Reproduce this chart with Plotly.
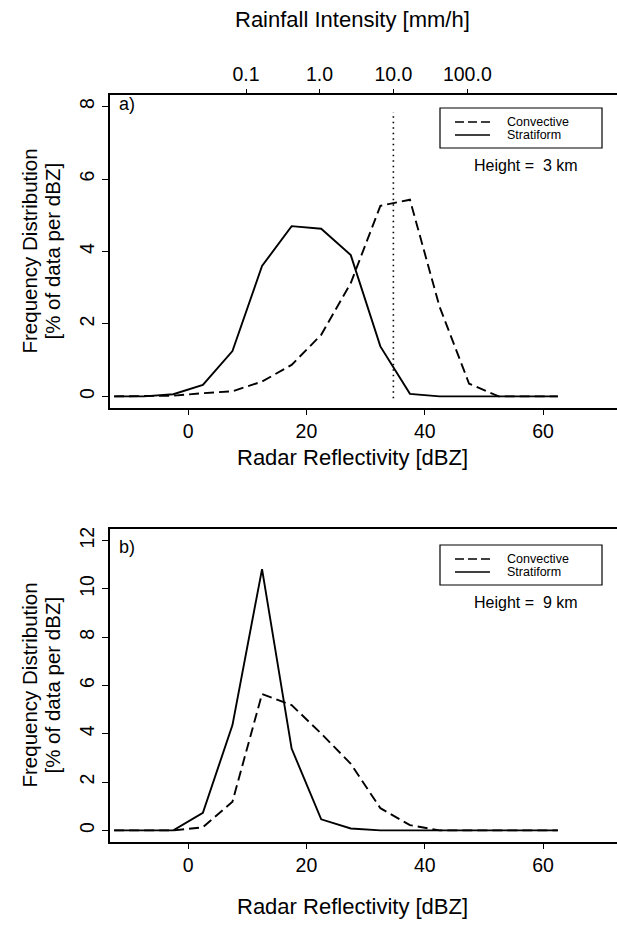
import plotly.graph_objects as go

# ---------------- data ----------------
dbz = [-12.5, -7.5, -2.5, 2.5, 7.5, 12.5, 17.5, 22.5, 27.5, 32.5, 37.5, 42.5, 47.5, 52.5, 57.5, 62.5]

conv_3km = [0.0, 0.0, 0.02, 0.09, 0.14, 0.41, 0.87, 1.70, 3.13, 5.26, 5.43, 2.48, 0.35, 0.0, 0.0, 0.0]
strat_3km = [0.0, 0.0, 0.06, 0.32, 1.25, 3.60, 4.70, 4.63, 3.90, 1.38, 0.07, 0.0, 0.0, 0.0, 0.0, 0.0]

conv_9km = [0.0, 0.0, 0.0, 0.13, 1.19, 5.65, 5.19, 4.01, 2.76, 0.92, 0.22, 0.0, 0.0, 0.0, 0.0, 0.0]
strat_9km = [0.0, 0.0, 0.0, 0.73, 4.36, 10.82, 3.39, 0.46, 0.08, 0.0, 0.0, 0.0, 0.0, 0.0, 0.0, 0.0]

rain_tick_text = ["0.1", "1.0", "10.0", "100.0"]
rain_tick_dbz = [9.8, 22.2, 34.7, 47.2]

x_ticks = [0, 20, 40, 60]
y_ticks_a = [0, 2, 4, 6, 8]
y_ticks_b = [0, 2, 4, 6, 8, 10, 12]

# ---------------- layout helpers ----------------
W, H = 617, 930
FONT = "Liberation Sans, Arial, Helvetica, sans-serif"


def px(x):
    return x / W


def py(y):
    return 1 - y / H


X_RANGE = [-13.2, 72.5]
DASH = "10px,5px"
LW = 1.9

fig = go.Figure()

# panel a
fig.add_trace(go.Scatter(x=dbz, y=conv_3km, mode="lines", xaxis="x", yaxis="y",
                         line=dict(color="black", width=LW, dash=DASH), showlegend=False))
fig.add_trace(go.Scatter(x=dbz, y=strat_3km, mode="lines", xaxis="x", yaxis="y",
                         line=dict(color="black", width=LW), showlegend=False))
# dotted line at 10 mm/h on the rainfall axis
fig.add_trace(go.Scatter(x=[rain_tick_dbz[2], rain_tick_dbz[2]], y=[-0.05, 7.85], mode="lines",
                         xaxis="x3", yaxis="y",
                         line=dict(color="black", width=1.6, dash="1.5px,4px"), showlegend=False))

# panel b
fig.add_trace(go.Scatter(x=dbz, y=conv_9km, mode="lines", xaxis="x2", yaxis="y2",
                         line=dict(color="black", width=LW, dash=DASH), showlegend=False))
fig.add_trace(go.Scatter(x=dbz, y=strat_9km, mode="lines", xaxis="x2", yaxis="y2",
                         line=dict(color="black", width=LW), showlegend=False))

xdom = [px(110), 1.0]
ydom_a = [py(408), py(95)]
ydom_b = [py(842), py(529)]

tickfont = dict(family=FONT, size=19.5, color="black")
common_x = dict(range=X_RANGE, showgrid=False, zeroline=False, showline=True, linecolor="black",
                linewidth=1.6, ticks="outside", ticklen=5, tickwidth=1.2, tickcolor="black",
                tickfont=tickfont, automargin=False)
common_y = dict(showgrid=False, zeroline=False, showline=True, linecolor="black", linewidth=1.6,
                ticks="outside", ticklen=6, tickwidth=1.2, tickcolor="black", tickfont=tickfont,
                tickangle=-90, automargin=False)

fig.update_layout(
    width=W, height=H,
    margin=dict(l=0, r=0, t=0, b=0),
    paper_bgcolor="white", plot_bgcolor="white",
    font=dict(family=FONT, color="black"),
    xaxis=dict(common_x, domain=xdom, anchor="y", tickvals=x_ticks,
               ticktext=[str(v) for v in x_ticks]),
    yaxis=dict(common_y, domain=ydom_a, anchor="x", range=[-0.32, 8.32], tickvals=y_ticks_a),
    xaxis3=dict(common_x, overlaying="x", side="top", anchor="y", tickvals=rain_tick_dbz,
                ticktext=rain_tick_text, ticklen=4),
    xaxis2=dict(common_x, domain=xdom, anchor="y2", mirror=True, tickvals=x_ticks,
                ticktext=[str(v) for v in x_ticks]),
    yaxis2=dict(common_y, domain=ydom_b, anchor="x2", range=[-0.48, 12.48], tickvals=y_ticks_b),
)

annotations = []
shapes = []


def text(x, y, s, size, angle=0, xanchor="center"):
    annotations.append(dict(x=px(x), y=py(y), xref="paper", yref="paper", text=s, showarrow=False,
                            font=dict(family=FONT, size=size, color="black"), textangle=angle,
                            xanchor=xanchor, yanchor="middle"))


# titles
text(352, 20, "Rainfall Intensity [mm/h]", 22)
text(352, 458, "Radar Reflectivity [dBZ]", 22)
text(352, 906, "Radar Reflectivity [dBZ]", 22)
for yc in (251.5, 685.5):
    text(29, yc, "Frequency Distribution", 20.5, angle=-90)
    text(52, yc, "[% of data per dBZ]", 20.5, angle=-90)

# panel letters
text(117, 104, "a)", 18, xanchor="left")
text(117, 547, "b)", 18, xanchor="left")


def legend(top, height_label):
    shapes.append(dict(type="rect", xref="paper", yref="paper", x0=px(440), x1=px(602),
                       y0=py(top), y1=py(top + 40), line=dict(color="black", width=1.2)))
    shapes.append(dict(type="line", xref="paper", yref="paper", x0=px(455), x1=px(490),
                       y0=py(top + 14), y1=py(top + 14),
                       line=dict(color="black", width=1.3, dash="9px,4px")))
    shapes.append(dict(type="line", xref="paper", yref="paper", x0=px(455), x1=px(490),
                       y0=py(top + 27), y1=py(top + 27), line=dict(color="black", width=1.3)))
    text(505, top + 14, "Convective", 12.5, xanchor="left")
    text(505, top + 27, "Stratiform", 12.5, xanchor="left")
    text(526, top + 57, height_label, 16)


legend(108, "Height =  3 km")
legend(545, "Height =  9 km")

fig.update_layout(annotations=annotations, shapes=shapes)
fig.write_html("out.html")
